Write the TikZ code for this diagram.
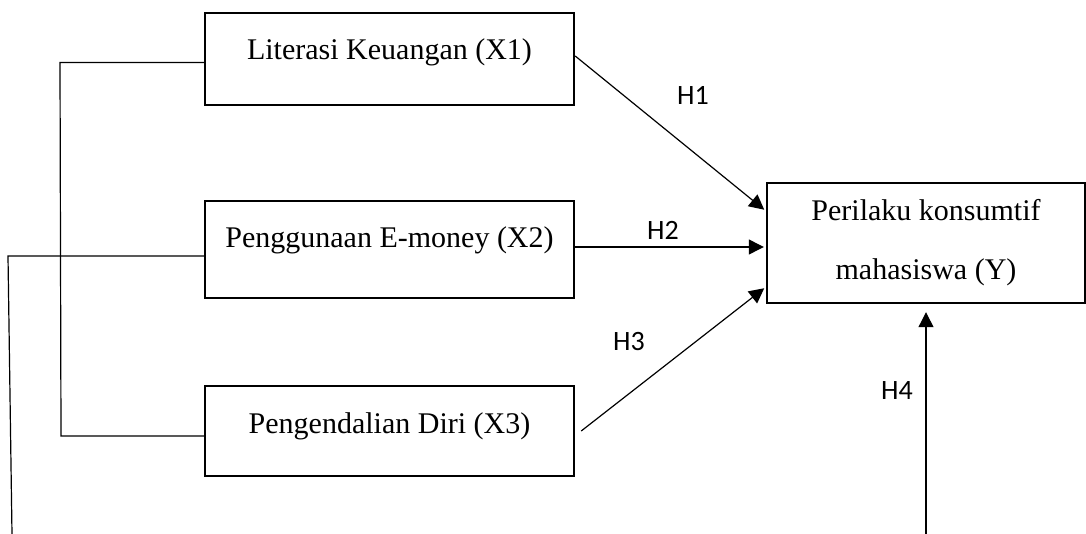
\documentclass[tikz,border=0pt]{standalone}
\usepackage{fontspec}
\setmainfont{Liberation Serif}
\newfontfamily\hypfont{Carlito}
\usetikzlibrary{%
    arrows.meta,
    positioning
}
\tikzset{hyparrow/.style = {-{Triangle[length=7.5pt,width=7.5pt]}, line width=.6pt, shorten >=1pt}}
\tikzset{linkline/.style = {line width=.6pt}}
\tikzset{varbox/.style = {draw, line width=1.2pt, inner sep=0pt, minimum width=184.5pt,
    text height=23.5pt, text depth=22.5pt, font=\fontsize{15}{18}\selectfont}}
\tikzset{hyplabel/.style = {inner sep=0pt, font=\hypfont\fontsize{14}{16}\selectfont}}

\begin{document}
\begin{tikzpicture}[x=.5pt, y=-.5pt]
    \useasboundingbox (0,0) rectangle (1086,534);

    \node (X1) [varbox] at (389.5,59) {Literasi Keuangan (X1)};
    \node (X2) [varbox, text depth=25pt] at (389.5,249.5) {Penggunaan E-money (X2)};
    \node (X3) [varbox, text depth=21.5pt] at (389.5,431) {Pengendalian Diri (X3)};
    \node (Y) [draw, line width=1.2pt, inner sep=0pt, minimum width=159pt, minimum height=60pt,
        align=center, font=\fontsize{15}{29.5}\selectfont] at (926,243) {Perilaku konsumtif\\mahasiswa (Y)};

    \coordinate (b1) at (60,62.5);
    \coordinate (b3) at (61,436);
    \coordinate (b2) at (8,256);
    \coordinate (b4) at (12,534);
    \coordinate (h2) at (700,247);
    \coordinate (h4) at (926,534);

    \draw[linkline] (X1.west |- b1) -- (b1) -- (b3) -- (X3.west |- b3);
    \draw[linkline] (X2.west |- b2) -- (b2) -- (b4);

    \draw[hyparrow] ([yshift=1.5pt]X1.east) -- ([yshift=16pt]Y.west);
    \draw[hyparrow] (X2.east |- h2) -- (Y.west |- h2);
    \draw[hyparrow] ([xshift=3pt]X3.east) -- ([yshift=-22pt]Y.west);
    \draw[hyparrow] (h4) -- ([yshift=-3pt]Y.south);

    \node (H1) [hyplabel] at (693,95) {H1};
    \node (H2) [hyplabel] at (663,230) {H2};
    \node (H3) [hyplabel] at (629,342) {H3};
    \node (H4) [hyplabel] at (897,391) {H4};
\end{tikzpicture}
\end{document}
